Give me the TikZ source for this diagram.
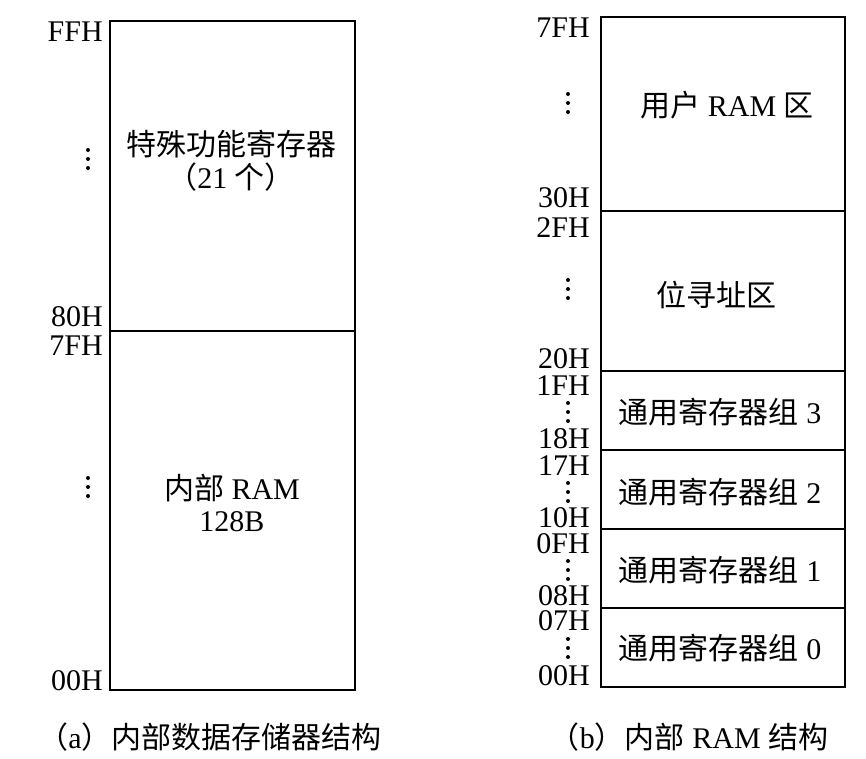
\documentclass[tikz,border=0pt]{standalone}
\usepackage{fontspec}
\setmainfont{Liberation Serif}
\newfontfamily\cjk{Noto Sans CJK SC}
\newcommand\zh[1]{{\cjk #1}}

\begin{document}
\begin{tikzpicture}[
    x=0.75pt, y=-0.75pt,
    font=\fontsize{22.5}{24.5}\selectfont,
    addr/.style={anchor=base east, inner sep=0pt},
    region/.style={align=center, inner sep=0pt},
    outer/.style={line width=2.2pt},
    divider/.style={line width=1.4pt},
    caption/.style={inner sep=0pt}
]
\useasboundingbox (0,0) rectangle (866,759);

% Part (a): internal data memory (00H -- FFH)
\draw[outer] (110,21) rectangle (355,690);
\draw[divider] (110,331) -- (355,331);
\node[region] (sfr) at (231,161) {\zh{特殊功能寄存器}\\\zh{（}21 \zh{个）}};
\node[region] (ram) at (232,503) {\zh{内部} RAM\\128B};

\node[addr] (aff) at (103,42) {FFH};
\node[addr] (a80) at (103,326) {80H};
\node[addr] (a7f) at (103,355) {7FH};
\node[addr] (a00) at (103,690) {00H};

% Part (b): internal RAM (00H -- 7FH)
\draw[outer] (601,17) rectangle (845,687);
\foreach \y in {211,371,450,529,608}
    \draw[divider] (601,\y) -- (845,\y);

\node[region] (user) at (727,105) {\zh{用户} RAM \zh{区}};
\node[region] (bit) at (716,295) {\zh{位寻址区}};
\node[region] (bank3) at (720,412) {\zh{通用寄存器组} 3};
\node[region] (bank2) at (720,492) {\zh{通用寄存器组} 2};
\node[region] (bank1) at (720,570) {\zh{通用寄存器组} 1};
\node[region] (bank0) at (720,648) {\zh{通用寄存器组} 0};

\node[addr] (b7f) at (590,38) {7FH};
\node[addr] (b30) at (590,208) {30H};
\node[addr] (b2f) at (590,238) {2FH};
\node[addr] (b20) at (590,368) {20H};
\node[addr] (b1f) at (590,395) {1FH};
\node[addr] (b18) at (590,448) {18H};
\node[addr] (b17) at (590,475) {17H};
\node[addr] (b10) at (590,527) {10H};
\node[addr] (b0f) at (590,553) {0FH};
\node[addr] (b08) at (590,605) {08H};
\node[addr] (b07) at (590,630) {07H};
\node[addr] (b00) at (590,685) {00H};

% vertical ellipsis between address labels
\foreach \x/\y in {88/159, 88/487, 568/103, 568/289, 568/412, 568/492, 568/570, 568/648}
    \foreach \d in {-9,0,9}
        \fill (\x,\y+\d) circle (2);

% Captions
\node[caption] (capa) at (210,737) {\zh{（}a\zh{）内部数据存储器结构}};
\node[caption] (capb) at (689,737) {\zh{（}b\zh{）内部} RAM \zh{结构}};

\end{tikzpicture}
\end{document}
